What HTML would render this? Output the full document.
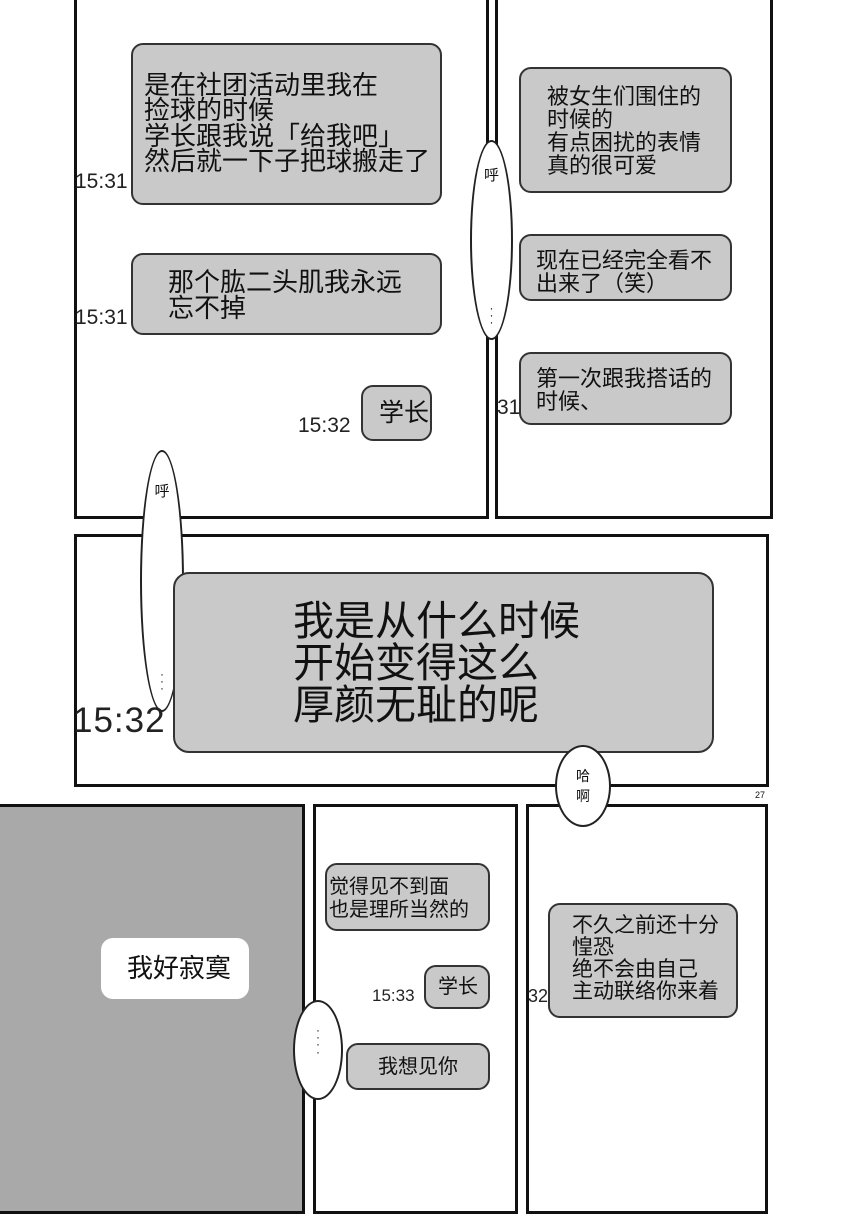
<!DOCTYPE html>
<html><head><meta charset="utf-8"><style>
html,body{margin:0;padding:0}
body{width:847px;height:1200px;position:relative;background:#fff;overflow:hidden;font-family:"Liberation Sans","Noto Sans CJK SC",sans-serif;color:#111}
.p{position:absolute;border:3px solid #111;box-sizing:border-box;background:#fff}
.b{position:absolute;background:#c9c9c9;border:2px solid #333;border-radius:12px;box-sizing:border-box;line-height:1.0;white-space:nowrap}
.w{background:#fff;border:none}
.t{position:absolute;font-size:21px;color:#222}
.o{position:absolute;background:#fff;border:2px solid #222;border-radius:50%;box-sizing:border-box;text-align:center}
</style></head><body>
<div class="p" style="left:74px;top:-5px;width:415px;height:524px"></div>
<div class="p" style="left:495px;top:-5px;width:278px;height:524px"></div>
<div class="p" style="left:74px;top:534px;width:695px;height:253px"></div>
<div class="p" style="left:-5px;top:804px;width:310px;height:410px;background:#a9a9a9"></div>
<div class="p" style="left:313px;top:804px;width:205px;height:410px"></div>
<div class="p" style="left:526px;top:804px;width:242px;height:410px"></div>

<div class="b" style="left:131px;top:43px;width:311px;height:162px;font-size:26px;padding:28px 0 0 11px;line-height:0.98">是在社团活动里我在<br>捡球的时候<br>学长跟我说「给我吧」<br>然后就一下子把球搬走了</div>
<div class="t" style="left:75px;top:170px">15:31</div>
<div class="b" style="left:131px;top:253px;width:311px;height:82px;font-size:26px;padding:14px 0 0 35px">那个肱二头肌我永远<br>忘不掉</div>
<div class="t" style="left:75px;top:306px">15:31</div>
<div class="b" style="left:361px;top:385px;width:71px;height:56px;font-size:25px;padding:14px 0 0 16px">学长</div>
<div class="t" style="left:298px;top:414px">15:32</div>

<div class="b" style="left:519px;top:67px;width:213px;height:126px;font-size:22px;padding:16px 0 0 26px;line-height:1.05">被女生们围住的<br>时候的<br>有点困扰的表情<br>真的很可爱</div>
<div class="b" style="left:519px;top:234px;width:213px;height:67px;font-size:22px;padding:13px 0 0 15px;line-height:1.05">现在已经完全看不<br>出来了（笑）</div>
<div class="b" style="left:519px;top:352px;width:213px;height:73px;font-size:22px;padding:13px 0 0 15px;line-height:1.05">第一次跟我搭话的<br>时候、</div>
<div class="t" style="left:497px;top:396px">31</div>

<div class="o" style="left:470px;top:140px;width:43px;height:200px;font-size:15px;padding-top:22px">呼<div style="margin-top:120px;font-size:12px;line-height:.6">·<br>·<br>·</div></div>
<div class="o" style="left:140px;top:450px;width:44px;height:262px;font-size:15px;padding-top:28px">呼<div style="margin-top:170px;font-size:12px;line-height:.6">·<br>·<br>·</div></div>

<div class="b" style="left:173px;top:572px;width:541px;height:181px;font-size:41px;padding:26px 0 0 118px;line-height:1.03;border-radius:16px">我是从什么时候<br>开始变得这么<br>厚颜无耻的呢</div>
<div class="t" style="left:73px;top:701px;font-size:35px;letter-spacing:1px">15:32</div>
<div class="o" style="left:555px;top:745px;width:56px;height:82px;font-size:14px;padding-top:20px;line-height:1.4">哈<br>啊</div>
<div style="position:absolute;left:755px;top:790px;font-size:9px">27</div>

<div class="b w" style="left:101px;top:938px;width:148px;height:61px;font-size:26px;padding:17px 0 0 26px">我好寂寞</div>

<div class="b" style="left:325px;top:863px;width:165px;height:68px;font-size:20px;padding:11px 0 0 2px;line-height:1.15">觉得见不到面<br>也是理所当然的</div>
<div class="b" style="left:424px;top:965px;width:66px;height:44px;font-size:20px;padding:10px 0 0 12px">学长</div>
<div class="t" style="left:372px;top:986px;font-size:17px">15:33</div>
<div class="b" style="left:346px;top:1043px;width:144px;height:47px;font-size:20px;padding:12px 0 0 30px">我想见你</div>
<div class="t" style="left:316px;top:1068px;font-size:17px">33</div>
<div class="o" style="left:293px;top:1000px;width:50px;height:100px;font-size:12px;padding-top:25px;line-height:.6">·<br>·<br>·<br>·</div>

<div class="b" style="left:548px;top:903px;width:190px;height:115px;font-size:21px;padding:10px 0 0 22px;line-height:1.05">不久之前还十分<br>惶恐<br>绝不会由自己<br>主动联络你来着</div>
<div class="t" style="left:528px;top:986px;font-size:18px">32</div>
</body></html>
